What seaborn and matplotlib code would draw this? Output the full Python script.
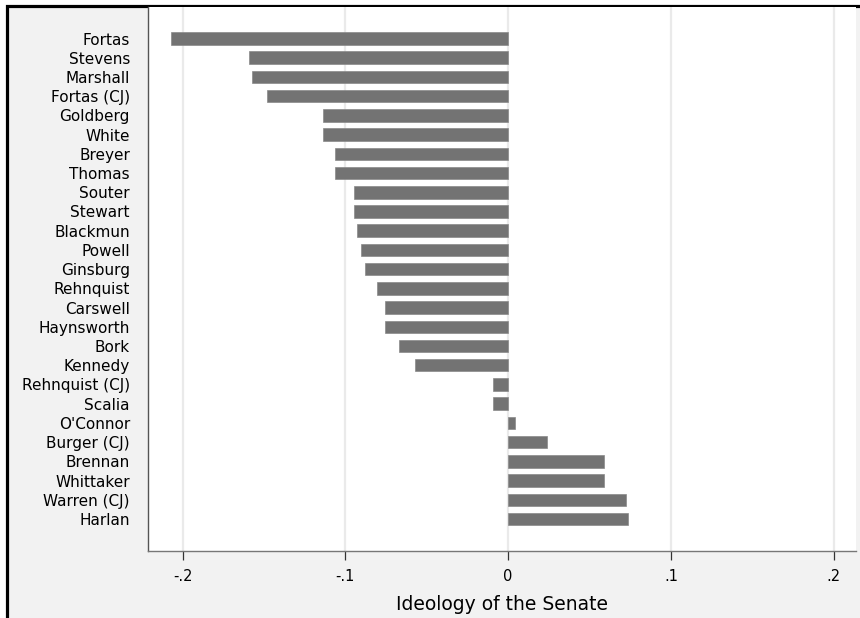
import matplotlib
matplotlib.use("Agg")
import matplotlib.pyplot as plt
from matplotlib.patches import Rectangle
import pandas as pd
import seaborn as sns

# justices, top to bottom
justices = ["Fortas", "Stevens", "Marshall", "Fortas (CJ)", "Goldberg", "White",
            "Breyer", "Thomas", "Souter", "Stewart", "Blackmun", "Powell",
            "Ginsburg", "Rehnquist", "Carswell", "Haynsworth", "Bork", "Kennedy",
            "Rehnquist (CJ)", "Scalia", "O'Connor", "Burger (CJ)", "Brennan",
            "Whittaker", "Warren (CJ)", "Harlan"]

# ideology of the senate at nomination
ideology = [-0.207, -0.1595, -0.1577, -0.1483, -0.1135, -0.1135,
            -0.1067, -0.1067, -0.0945, -0.0945, -0.0929, -0.0906,
            -0.0877, -0.0806, -0.0755, -0.0755, -0.0671, -0.0575,
            -0.0094, -0.0094, 0.0039, 0.0241, 0.0586,
            0.0586, 0.0721, 0.0734]

xticks = [-0.2, -0.1, 0.0, 0.1, 0.2]
xtick_labels = ["-.2", "-.1", "0", ".1", ".2"]

df = pd.DataFrame({"justice": justices, "ideology": ideology})

sns.set_style("white")
plt.rcParams["font.family"] = ["DejaVu Sans"]
plt.rcParams["text.color"] = "black"
plt.rcParams["axes.labelcolor"] = "black"
plt.rcParams["xtick.labelcolor"] = "black"
plt.rcParams["ytick.labelcolor"] = "black"

W, H = 860, 618
fig = plt.figure(figsize=(W / 100, H / 100), dpi=100, facecolor="white")

# stata-ish outer panel (the image is cropped so only left/top edges show)
fig.patches.append(Rectangle((6.5 / W, -0.1), 1.2, (H - 6.5) / H + 0.1,
                             transform=fig.transFigure, facecolor="#f2f2f2",
                             edgecolor="black", lw=2.3, zorder=-5))

ax = fig.add_axes([148 / W, (H - 550.5) / H, (856 - 148) / W, (550.5 - 7) / H])
ax.set_zorder(1)
ax.set_facecolor("white")

sns.barplot(data=df, x="ideology", y="justice", orient="h", color="#737373",
            width=0.65, saturation=1, edgecolor="#8a8a8a", linewidth=0.5,
            ax=ax, zorder=3)

n = len(justices)
ax.set_ylim(n - 1 + 1.64, -1.64)
ax.set_xlim(-0.2213, 0.2137)

ax.set_xticks(xticks)
ax.set_xticklabels(xtick_labels, fontsize=10.5)
ax.grid(axis="x", color="#eaeaea", lw=1.6, zorder=0)
ax.set_axisbelow(True)

ax.tick_params(axis="y", length=0, pad=13, labelsize=11)
ax.tick_params(axis="x", direction="out", length=6.5, width=0.9,
               color="#333333", pad=7, bottom=True)

ax.set_ylabel("")
ax.set_xlabel("Ideology of the Senate", fontsize=13.5, labelpad=8)

for side in ["top", "right"]:
    ax.spines[side].set_visible(False)
ax.spines["left"].set_color("#555555")
ax.spines["left"].set_linewidth(1.0)
ax.spines["bottom"].set_color("#777777")
ax.spines["bottom"].set_linewidth(1.0)

fig.savefig("out.png", dpi=100, facecolor=fig.get_facecolor())
